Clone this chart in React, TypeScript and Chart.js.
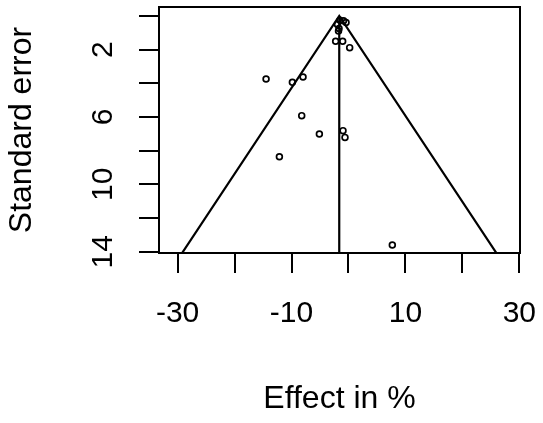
import { useEffect, useRef } from "react";
import { Chart, registerables } from "chart.js";

Chart.register(...registerables);

// Study-level data
const studyEffect = [
  -0.43, -1.49, -0.87, -1.93, -1.66, -1.75, -2.25, -1.02, 0.21, -14.47, -9.85, -7.98, -8.21, -5.11, -0.96,
  -0.61, -12.13, 7.7,
];
const studySE = [
  0.39, 0.26, 0.29, 0.5, 0.74, 0.89, 1.5, 1.5, 1.88, 3.74, 3.94, 3.62, 5.92, 7.01, 6.81, 7.21, 8.36, 13.6,
];
const pooledEffect = -1.62;
const funnelZ = 1.96;
const funnelSE = 15;

const xTickValues = [-30, -20, -10, 0, 10, 20, 30];
const xTickLabels = ["-30", "", "-10", "", "10", "", "30"];
const yTickValues = [14, 12, 10, 8, 6, 4, 2, 0];
const yTickLabels = ["14", "", "10", "", "6", "", "2", ""];

const FONT = "'Liberation Sans', Arial, Helvetica, sans-serif";

const boxPlugin = {
  id: "boxPlugin",
  afterDraw(chart: any) {
    const { ctx, chartArea } = chart;
    ctx.save();
    ctx.strokeStyle = "#000";
    ctx.lineWidth = 2;
    ctx.strokeRect(chartArea.left, chartArea.top, chartArea.right - chartArea.left, chartArea.bottom - chartArea.top);
    ctx.restore();
  },
};

export default function App() {
  const ref = useRef<HTMLCanvasElement | null>(null);

  useEffect(() => {
    if (!ref.current) return;
    Chart.defaults.font.family = FONT;
    Chart.defaults.color = "#000";

    const points = studyEffect.map((x, i) => ({ x, y: studySE[i] }));
    const funnel = [
      { x: pooledEffect - funnelZ * funnelSE, y: funnelSE },
      { x: pooledEffect, y: 0 },
      { x: pooledEffect + funnelZ * funnelSE, y: funnelSE },
    ];
    const centre = [
      { x: pooledEffect, y: 0 },
      { x: pooledEffect, y: funnelSE },
    ];

    const chart = new Chart(ref.current, {
      type: "scatter",
      data: {
        datasets: [
          {
            data: funnel,
            showLine: true,
            borderColor: "#000",
            borderWidth: 2.2,
            pointRadius: 0,
            fill: false,
          } as any,
          {
            data: centre,
            showLine: true,
            borderColor: "#000",
            borderWidth: 2.2,
            pointRadius: 0,
            fill: false,
          } as any,
          {
            data: points,
            pointStyle: "circle",
            pointRadius: 2.9,
            pointBorderWidth: 1.7,
            borderColor: "#000",
            backgroundColor: "rgba(0,0,0,0)",
            pointBackgroundColor: "rgba(0,0,0,0)",
          } as any,
        ],
      },
      options: {
        animation: false,
        responsive: false,
        events: [],
        layout: { padding: { left: 0, top: 7, right: 23, bottom: 0 } },
        plugins: { legend: { display: false }, tooltip: { enabled: false } },
        scales: {
          x: {
            type: "linear",
            position: "bottom",
            min: -33.27,
            max: 30.12,
            bounds: "data",
            afterBuildTicks: (s: any) => {
              s.ticks = xTickValues.map((v) => ({ value: v }));
            },
            afterFit: (s: any) => {
              s.height = 170;
              s.paddingLeft = 0;
              s.paddingRight = 0;
              s.paddingTop = 0;
              s.paddingBottom = 0;
            },
            ticks: {
              autoSkip: false,
              maxRotation: 0,
              minRotation: 0,
              padding: 22.6,
              color: "#000",
              font: { family: FONT, size: 30 },
              callback: (_v: any, i: number) => xTickLabels[i],
            },
            grid: {
              drawOnChartArea: false,
              drawTicks: true,
              tickLength: 20,
              color: "#000",
              tickColor: "#000",
              lineWidth: 2,
              tickWidth: 2,
            },
            border: { display: false },
            title: {
              display: true,
              text: "Effect in %",
              color: "#000",
              font: { family: FONT, size: 32 },
              padding: { top: 0, bottom: 4.8 },
            },
          },
          y: {
            type: "linear",
            position: "left",
            reverse: true,
            min: -0.534,
            max: 14.077,
            bounds: "data",
            afterBuildTicks: (s: any) => {
              s.ticks = yTickValues.map((v) => ({ value: v }));
            },
            afterFit: (s: any) => {
              s.width = 159;
              s.paddingLeft = 0;
              s.paddingRight = 0;
              s.paddingTop = 0;
              s.paddingBottom = 0;
            },
            ticks: {
              autoSkip: false,
              minRotation: 90,
              maxRotation: 90,
              crossAlign: "center",
              padding: 19,
              color: "#000",
              font: { family: FONT, size: 30 },
              callback: (_v: any, i: number) => yTickLabels[i],
            },
            grid: {
              drawOnChartArea: false,
              drawTicks: true,
              tickLength: 20,
              color: "#000",
              tickColor: "#000",
              lineWidth: 2,
              tickWidth: 2,
            },
            border: { display: false },
            title: {
              display: true,
              text: "Standard error",
              color: "#000",
              font: { family: FONT, size: 32 },
              padding: { top: 3.3, bottom: 0 },
            },
          },
        },
      } as any,
      plugins: [boxPlugin],
    });

    return () => chart.destroy();
  }, []);

  return (
    <div style={{ position: "absolute", left: 0, top: 0, width: 543, height: 423, background: "#fff" }}>
      <canvas ref={ref} width={543} height={423} style={{ display: "block" }} />
    </div>
  );
}
